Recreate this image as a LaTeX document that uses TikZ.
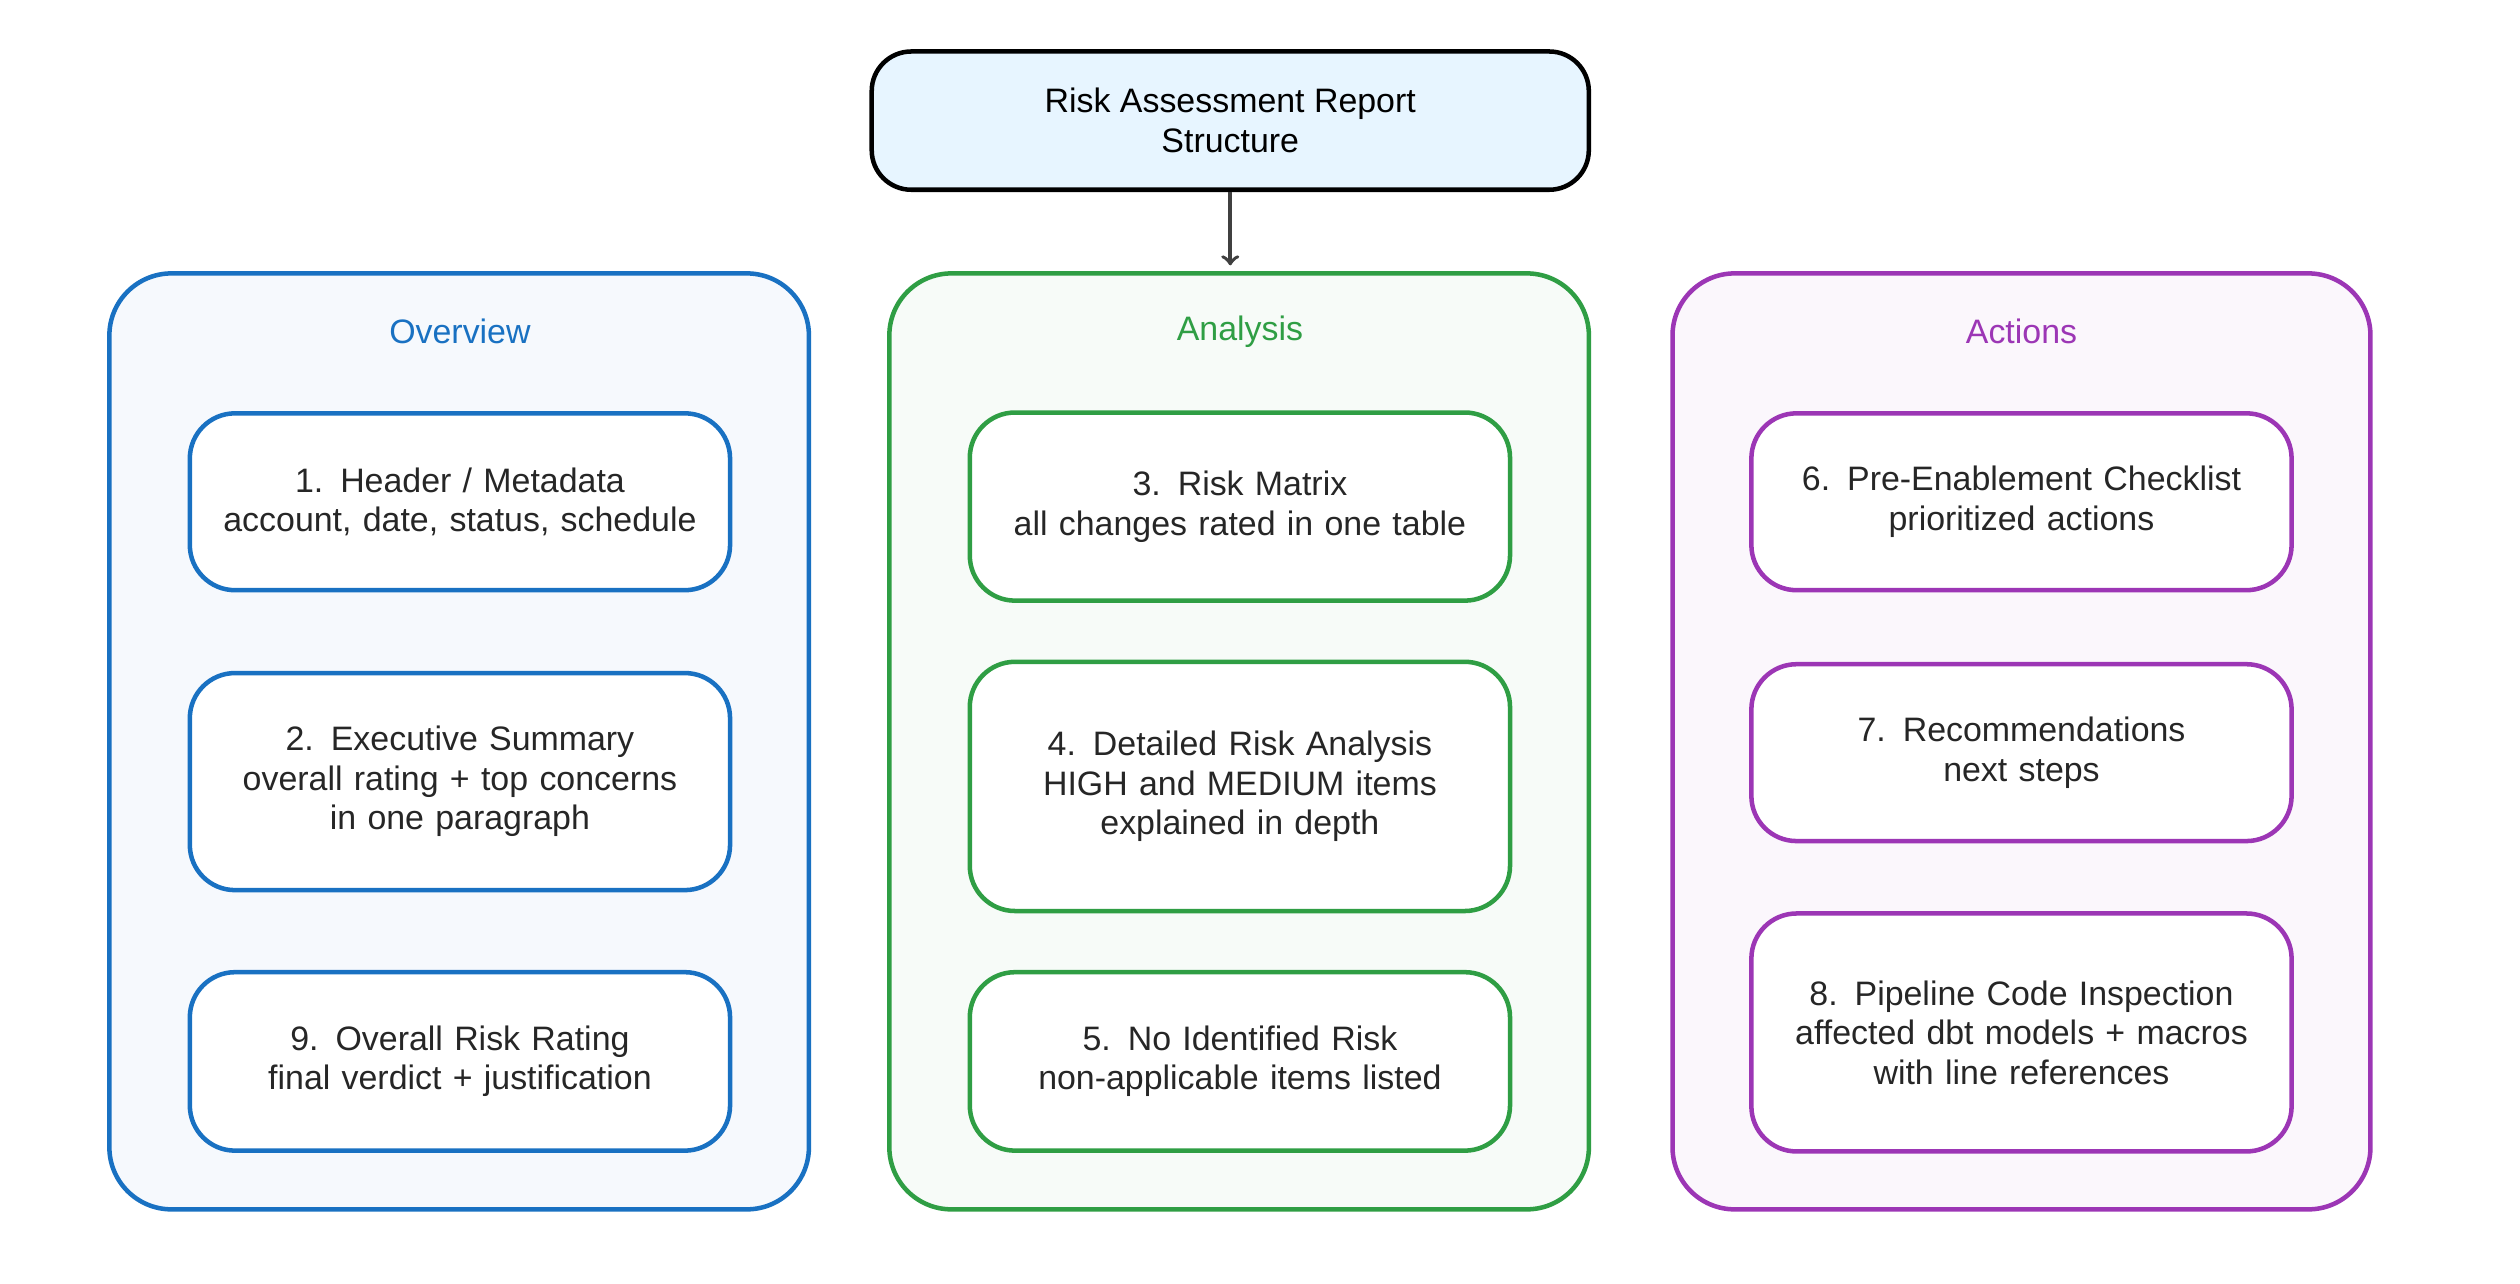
\documentclass[tikz,border=0pt]{standalone}
\usepackage{fontspec}
\setmainfont{Liberation Sans}
\usetikzlibrary{positioning}
\definecolor{ovblue}{HTML}{1971C2}
\definecolor{angreen}{HTML}{2F9E44}
\definecolor{acpurple}{HTML}{9C36B5}
\definecolor{titlefill}{HTML}{E7F5FF}
\tikzset{
  group/.style={draw=#1, line width=1.6pt, rounded corners=22pt, fill=#1!4},
  item/.style={draw=#1, line width=1.6pt, rounded corners=16pt, fill=white,
    text width=6.5cm, minimum width=6.72cm, align=center, font=\large,
    inner sep=0pt, text=black!85},
  grouptitle/.style={text=#1, font=\large}
}
\begin{document}
\begin{tikzpicture}[x=0.02cm, y=-0.02cm]
    \useasboundingbox (0,0) rectangle (1567,798);

    % Title
    \node[draw, line width=1.6pt, rounded corners=14pt, fill=titlefill,
      minimum width=8.92cm, minimum height=1.72cm, align=center, font=\large]
      (title) at (765,75) {Risk Assessment Report\\Structure};

    % Groups
    \draw[group=ovblue] (68,170) rectangle (503,752);
    \draw[group=angreen] (553,170) rectangle (988,752);
    \draw[group=acpurple] (1040,170) rectangle (1474,752);
    \node[grouptitle=ovblue] (ovtitle) at (286,206) {Overview};
    \node[grouptitle=angreen] (antitle) at (771,206) {Analysis};
    \node[grouptitle=acpurple] (actitle) at (1257,206) {Actions};

    % Arrow to analysis
    \coordinate (antop) at (765,165);
    \draw[->, line width=1.3pt, draw=black!75] (title) -- (antop);

    % Overview items
    \node[item=ovblue, minimum height=2.2cm] (header) at (286,312)
      {1. Header / Metadata\\account, date, status, schedule};
    \node[item=ovblue, minimum height=2.7cm] (summary) at (286,486)
      {2. Executive Summary\\overall rating + top concerns\\in one paragraph};
    \node[item=ovblue, minimum height=2.22cm] (rating) at (286,660)
      {9. Overall Risk Rating\\final verdict + justification};

    % Analysis items
    \node[item=angreen, minimum height=2.34cm] (matrix) at (771,315)
      {3. Risk Matrix\\all changes rated in one table};
    \node[item=angreen, minimum height=3.1cm] (detail) at (771,489)
      {4. Detailed Risk Analysis\\HIGH and MEDIUM items\\explained in depth};
    \node[item=angreen, minimum height=2.22cm] (norisk) at (771,660)
      {5. No Identified Risk\\non-applicable items listed};

    % Actions items
    \node[item=acpurple, minimum height=2.2cm] (checklist) at (1257,312)
      {6. Pre-Enablement Checklist\\prioritized actions};
    \node[item=acpurple, minimum height=2.2cm] (recs) at (1257,468)
      {7. Recommendations\\next steps};
    \node[item=acpurple, minimum height=2.96cm] (inspect) at (1257,642)
      {8. Pipeline Code Inspection\\affected dbt models + macros\\with line references};
\end{tikzpicture}
\end{document}
